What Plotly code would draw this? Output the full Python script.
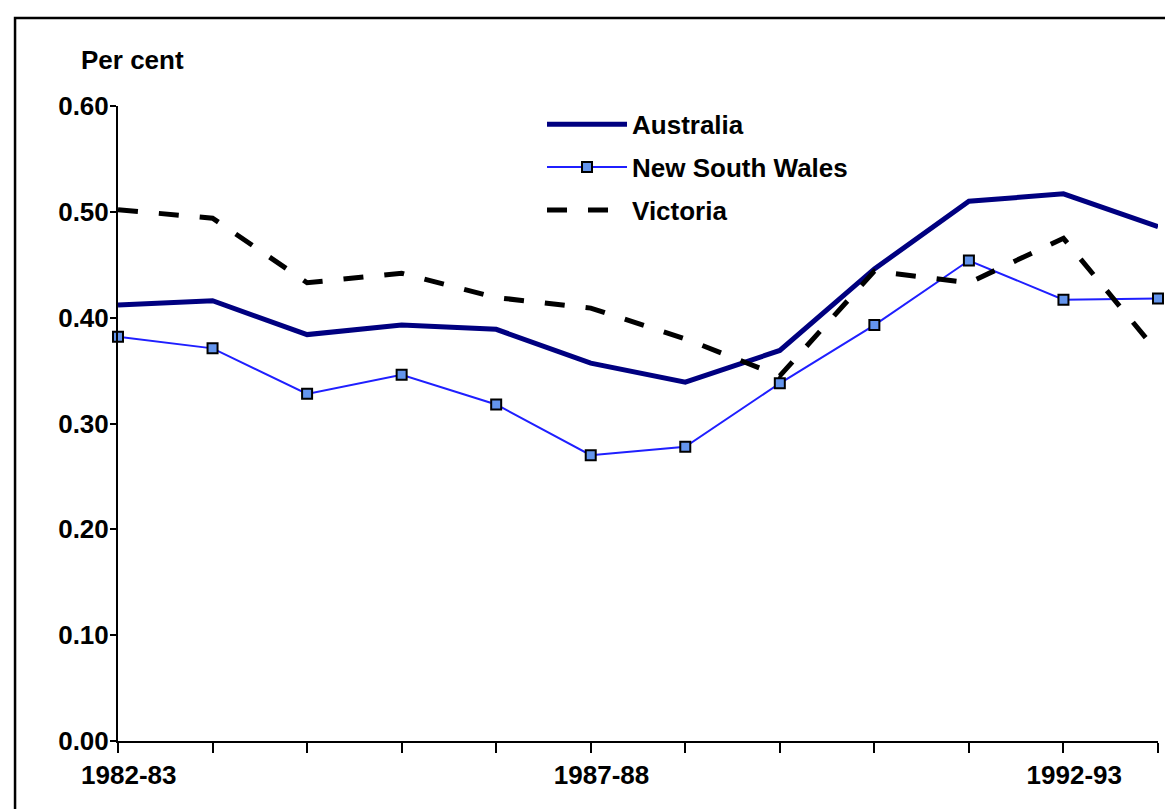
import plotly.graph_objects as go

years = ["1982-83", "1983-84", "1984-85", "1985-86", "1986-87", "1987-88",
         "1988-89", "1989-90", "1990-91", "1991-92", "1992-93", "1993-94"]
shown_labels = ["1982-83", "", "", "", "", "1987-88", "", "", "", "", "1992-93", ""]

australia = [0.412, 0.416, 0.384, 0.393, 0.389, 0.357, 0.339, 0.369, 0.446, 0.510, 0.517, 0.486]
nsw = [0.382, 0.371, 0.328, 0.346, 0.318, 0.270, 0.278, 0.338, 0.393, 0.454, 0.417, 0.418]
victoria = [0.502, 0.494, 0.433, 0.442, 0.419, 0.409, 0.380, 0.345, 0.444, 0.433, 0.475, 0.367]

y_ticks = [0.0, 0.1, 0.2, 0.3, 0.4, 0.5, 0.6]
y_ticktext = ["0.00", "0.10", "0.20", "0.30", "0.40", "0.50", "0.60"]

FONT = "Liberation Sans, Arial, sans-serif"
FS = 26
NB = "\u00a0" * 3  # nudges the category labels slightly right of their ticks

fig = go.Figure()
fig.add_trace(go.Scatter(
    x=years, y=australia, name="Australia", mode="lines",
    line=dict(color="#000080", width=5), legendgroup="a", cliponaxis=False))
fig.add_trace(go.Scatter(
    x=years, y=nsw, name="New South Wales", mode="lines+markers",
    line=dict(color="#1f1fff", width=2),
    marker=dict(symbol="square", size=10, color="#6495ED",
                line=dict(color="black", width=2)),
    legendgroup="b", cliponaxis=False))
fig.add_trace(go.Scatter(
    x=years, y=victoria, name="Victoria", mode="lines",
    line=dict(color="black", width=5, dash="20px,21px"),
    legendgroup="c", cliponaxis=False))

fig.update_layout(
    width=1165, height=801,
    margin=dict(l=110, r=15, t=98, b=68),
    paper_bgcolor="white", plot_bgcolor="white",
    font=dict(family=FONT, size=FS, color="black"),
    showlegend=True,
    legend=dict(
        x=0.4077, y=1.008, xanchor="left", yanchor="top",
        bgcolor="rgba(0,0,0,0)", itemwidth=80,
        tracegroupgap=6, traceorder="grouped",
        font=dict(family=FONT, size=FS, color="black", weight="bold"),
    ),
    xaxis=dict(
        type="category", range=[0, 11],
        tickmode="array", tickvals=years,
        ticktext=[(NB + t) if t else "" for t in shown_labels],
        showgrid=False, zeroline=False,
        showline=True, linecolor="black", linewidth=2,
        ticks="outside", ticklen=10, tickwidth=2, tickcolor="black",
        tickfont=dict(family=FONT, size=FS, color="black", weight="bold"),
    ),
    yaxis=dict(
        range=[0, 0.6], tickmode="array", tickvals=y_ticks, ticktext=y_ticktext,
        showgrid=False, zeroline=False,
        showline=True, linecolor="black", linewidth=2,
        ticks="outside", ticklen=6, tickwidth=2, tickcolor="black",
        ticklabelstandoff=-4,
        tickfont=dict(family=FONT, size=FS, color="black", weight="bold"),
    ),
    shapes=[dict(
        type="rect", xref="paper", yref="paper",
        x0=-0.0990, x1=1.2, y0=-0.3, y1=1.1386,
        line=dict(color="black", width=2.5), fillcolor="rgba(0,0,0,0)", layer="below")],
    annotations=[dict(
        text="<b>Per cent</b>", xref="paper", yref="paper",
        x=0.0135, y=1.0725, xanchor="center", yanchor="middle", showarrow=False,
        font=dict(family=FONT, size=FS, color="black"))],
)

fig.write_html("out.html")
